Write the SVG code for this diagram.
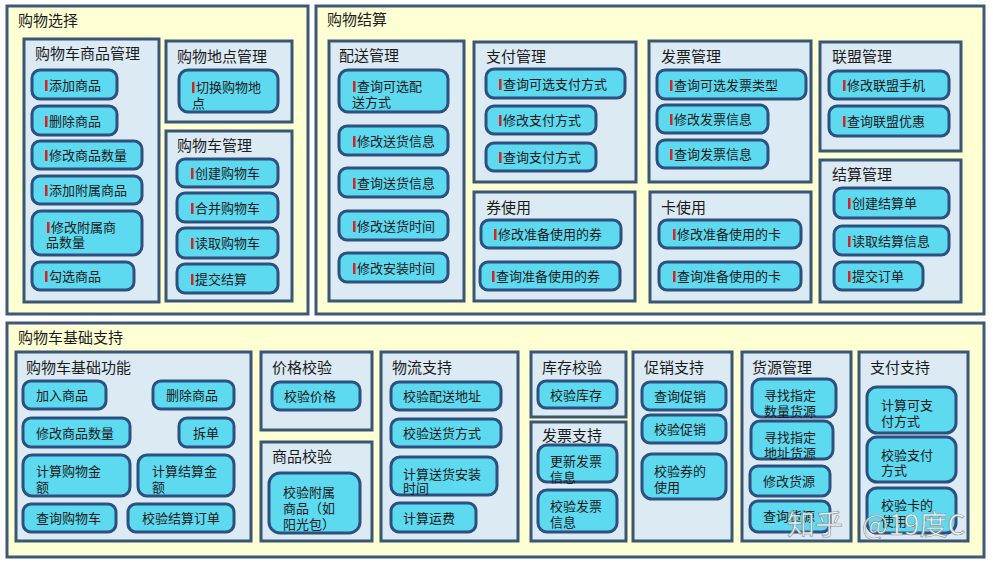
<svg xmlns="http://www.w3.org/2000/svg" width="993" height="565" viewBox="0 0 993 565">
<style>
.outer{fill:#FFFFD4;stroke:#3D5878;stroke-width:3}
.grp{fill:#DCEAF4;stroke:#3A5675;stroke-width:3}
.item{fill:#5DD9F0;stroke:#2C5080;stroke-width:3}
.bar{fill:#D42525}
text{font-family:"Noto Sans CJK SC","Noto Sans",sans-serif;fill:#1A1A1A}
.t1{font-size:15px}
.t2{font-size:15px}
.t3{font-size:13px}
.wm{font-size:28px;fill:#FFFFFF;stroke:#8A8A8A;stroke-width:0.7;opacity:0.9}
</style>
<rect width="993" height="565" fill="#FFFFFF"/>

<g id="outer-xuanze"><rect class="outer" x="7" y="6" width="301" height="308"/><text class="t1" x="18" y="26">购物选择</text></g>
<g id="outer-jiesuan"><rect class="outer" x="316" y="6" width="668" height="308"/><text class="t1" x="327" y="25">购物结算</text></g>
<g id="outer-jichu"><rect class="outer" x="7" y="323" width="977" height="234"/><text class="t1" x="18" y="343">购物车基础支持</text></g>

<g id="grp-spgl"><rect class="grp" x="24" y="39" width="135" height="263"/><text class="t2" x="35" y="59">购物车商品管理</text></g>
<g id="grp-ddgl"><rect class="grp" x="166" y="41" width="126" height="81"/><text class="t2" x="177" y="62">购物地点管理</text></g>
<g id="grp-gwcgl"><rect class="grp" x="166" y="131" width="126" height="170"/><text class="t2" x="177" y="151">购物车管理</text></g>
<g id="grp-psgl"><rect class="grp" x="329" y="41" width="135" height="260"/><text class="t2" x="339" y="61">配送管理</text></g>
<g id="grp-zfgl"><rect class="grp" x="474" y="42" width="162" height="140"/><text class="t2" x="486" y="62">支付管理</text></g>
<g id="grp-qsy"><rect class="grp" x="474" y="192" width="161" height="109"/><text class="t2" x="486" y="213">券使用</text></g>
<g id="grp-fpgl"><rect class="grp" x="649" y="41" width="162" height="141"/><text class="t2" x="661" y="62">发票管理</text></g>
<g id="grp-ksy"><rect class="grp" x="650" y="192" width="161" height="110"/><text class="t2" x="661" y="213">卡使用</text></g>
<g id="grp-lmgl"><rect class="grp" x="820" y="42" width="141" height="109"/><text class="t2" x="832" y="62">联盟管理</text></g>
<g id="grp-jsgl"><rect class="grp" x="820" y="160" width="141" height="142"/><text class="t2" x="832" y="180">结算管理</text></g>
<g id="grp-jcgn"><rect class="grp" x="16" y="352" width="235" height="189"/><text class="t2" x="26" y="373">购物车基础功能</text></g>
<g id="grp-jgjy"><rect class="grp" x="261" y="352" width="111" height="78"/><text class="t2" x="272" y="373">价格校验</text></g>
<g id="grp-spjy"><rect class="grp" x="261" y="442" width="111" height="99"/><text class="t2" x="272" y="462">商品校验</text></g>
<g id="grp-wlzc"><rect class="grp" x="381" y="352" width="137" height="189"/><text class="t2" x="392" y="373">物流支持</text></g>
<g id="grp-kcjy"><rect class="grp" x="531" y="352" width="95" height="65"/><text class="t2" x="542" y="373">库存校验</text></g>
<g id="grp-fpzc"><rect class="grp" x="531" y="422" width="95" height="119"/><text class="t2" x="542" y="441">发票支持</text></g>
<g id="grp-cxzc"><rect class="grp" x="633" y="352" width="99" height="189"/><text class="t2" x="644" y="373">促销支持</text></g>
<g id="grp-hygl"><rect class="grp" x="742" y="352" width="109" height="189"/><text class="t2" x="752" y="373">货源管理</text></g>
<g id="grp-zfzc"><rect class="grp" x="859" y="352" width="109" height="189"/><text class="t2" x="870" y="373">支付支持</text></g>

<!-- 购物车商品管理 -->
<g id="n-tjsp"><rect class="item" x="32" y="70" width="85" height="29" rx="8"/><rect class="bar" x="45" y="80" width="2.5" height="11"/><text class="t3" x="49" y="90">添加商品</text></g>
<g id="n-scsp"><rect class="item" x="32" y="106" width="85" height="29" rx="8"/><rect class="bar" x="45" y="116" width="2.5" height="11"/><text class="t3" x="49" y="126">删除商品</text></g>
<g id="n-xgspsl"><rect class="item" x="32" y="141" width="110" height="28" rx="8"/><rect class="bar" x="45" y="150" width="2.5" height="11"/><text class="t3" x="49" y="160">修改商品数量</text></g>
<g id="n-tjfssp"><rect class="item" x="32" y="176" width="110" height="28" rx="8"/><rect class="bar" x="45" y="185" width="2.5" height="11"/><text class="t3" x="49" y="195">添加附属商品</text></g>
<g id="n-xgfssl"><rect class="item" x="32" y="211" width="110" height="44" rx="9"/><rect class="bar" x="47" y="222" width="2.5" height="11"/><text class="t3"><tspan x="51" y="232">修改附属商</tspan><tspan x="46" y="247">品数量</tspan></text></g>
<g id="n-gxsp"><rect class="item" x="32" y="262" width="102" height="28" rx="8"/><rect class="bar" x="45" y="271" width="2.5" height="11"/><text class="t3" x="49" y="281">勾选商品</text></g>
<!-- 购物地点管理 -->
<g id="n-qhdd"><rect class="item" x="179" y="70" width="99" height="42" rx="9"/><rect class="bar" x="192" y="82" width="2.5" height="11"/><text class="t3"><tspan x="196" y="92">切换购物地</tspan><tspan x="192" y="108">点</tspan></text></g>
<!-- 购物车管理 -->
<g id="n-cjgwc"><rect class="item" x="177" y="159" width="101" height="28" rx="8"/><rect class="bar" x="191" y="168" width="2.5" height="11"/><text class="t3" x="195" y="178">创建购物车</text></g>
<g id="n-hbgwc"><rect class="item" x="177" y="193" width="101" height="29" rx="8"/><rect class="bar" x="191" y="203" width="2.5" height="11"/><text class="t3" x="195" y="213">合并购物车</text></g>
<g id="n-dqgwc"><rect class="item" x="177" y="228" width="101" height="30" rx="8"/><rect class="bar" x="191" y="238" width="2.5" height="11"/><text class="t3" x="195" y="248">读取购物车</text></g>
<g id="n-tjjs"><rect class="item" x="177" y="264" width="101" height="29" rx="8"/><rect class="bar" x="191" y="274" width="2.5" height="11"/><text class="t3" x="195" y="284">提交结算</text></g>
<!-- 配送管理 -->
<g id="n-cxpsfs"><rect class="item" x="339" y="70" width="109" height="42" rx="9"/><rect class="bar" x="353" y="81" width="2.5" height="11"/><text class="t3"><tspan x="357" y="91">查询可选配</tspan><tspan x="352" y="107">送方式</tspan></text></g>
<g id="n-xgshxx"><rect class="item" x="339" y="126" width="109" height="29" rx="8"/><rect class="bar" x="353" y="136" width="2.5" height="11"/><text class="t3" x="357" y="146">修改送货信息</text></g>
<g id="n-cxshxx"><rect class="item" x="339" y="168" width="109" height="29" rx="8"/><rect class="bar" x="353" y="178" width="2.5" height="11"/><text class="t3" x="357" y="188">查询送货信息</text></g>
<g id="n-xgshsj"><rect class="item" x="339" y="211" width="109" height="29" rx="8"/><rect class="bar" x="353" y="221" width="2.5" height="11"/><text class="t3" x="357" y="231">修改送货时间</text></g>
<g id="n-xgazsj"><rect class="item" x="339" y="253" width="109" height="29" rx="8"/><rect class="bar" x="353" y="263" width="2.5" height="11"/><text class="t3" x="357" y="273">修改安装时间</text></g>
<!-- 支付管理 -->
<g id="n-cxkxzf"><rect class="item" x="486" y="69" width="139" height="29" rx="8"/><rect class="bar" x="499" y="79" width="2.5" height="11"/><text class="t3" x="503" y="89">查询可选支付方式</text></g>
<g id="n-xgzf"><rect class="item" x="486" y="106" width="110" height="28" rx="8"/><rect class="bar" x="499" y="115" width="2.5" height="11"/><text class="t3" x="503" y="125">修改支付方式</text></g>
<g id="n-cxzf"><rect class="item" x="486" y="143" width="110" height="28" rx="8"/><rect class="bar" x="499" y="152" width="2.5" height="11"/><text class="t3" x="503" y="162">查询支付方式</text></g>
<!-- 券使用 -->
<g id="n-xgq"><rect class="item" x="481" y="220" width="140" height="28" rx="8"/><rect class="bar" x="494" y="229" width="2.5" height="11"/><text class="t3" x="498" y="239">修改准备使用的券</text></g>
<g id="n-cxq"><rect class="item" x="480" y="262" width="140" height="28" rx="8"/><rect class="bar" x="492" y="271" width="2.5" height="11"/><text class="t3" x="496" y="281">查询准备使用的券</text></g>
<!-- 发票管理 -->
<g id="n-cxfplx"><rect class="item" x="657" y="70" width="149" height="29" rx="8"/><rect class="bar" x="670" y="80" width="2.5" height="11"/><text class="t3" x="674" y="90">查询可选发票类型</text></g>
<g id="n-xgfp"><rect class="item" x="657" y="105" width="111" height="28" rx="8"/><rect class="bar" x="670" y="114" width="2.5" height="11"/><text class="t3" x="674" y="124">修改发票信息</text></g>
<g id="n-cxfp"><rect class="item" x="657" y="140" width="111" height="28" rx="8"/><rect class="bar" x="670" y="149" width="2.5" height="11"/><text class="t3" x="674" y="159">查询发票信息</text></g>
<!-- 卡使用 -->
<g id="n-xgk"><rect class="item" x="659" y="220" width="142" height="28" rx="8"/><rect class="bar" x="673" y="229" width="2.5" height="11"/><text class="t3" x="677" y="239">修改准备使用的卡</text></g>
<g id="n-cxk"><rect class="item" x="659" y="262" width="142" height="28" rx="8"/><rect class="bar" x="673" y="271" width="2.5" height="11"/><text class="t3" x="677" y="281">查询准备使用的卡</text></g>
<!-- 联盟管理 -->
<g id="n-xglmsj"><rect class="item" x="829" y="71" width="120" height="28" rx="8"/><rect class="bar" x="843" y="80" width="2.5" height="11"/><text class="t3" x="847" y="90">修改联盟手机</text></g>
<g id="n-cxlmyh"><rect class="item" x="829" y="106" width="120" height="30" rx="8"/><rect class="bar" x="843" y="116" width="2.5" height="11"/><text class="t3" x="847" y="126">查询联盟优惠</text></g>
<!-- 结算管理 -->
<g id="n-cjjsd"><rect class="item" x="834" y="188" width="115" height="30" rx="8"/><rect class="bar" x="848" y="198" width="2.5" height="11"/><text class="t3" x="852" y="208">创建结算单</text></g>
<g id="n-dqjsxx"><rect class="item" x="834" y="226" width="115" height="29" rx="8"/><rect class="bar" x="848" y="236" width="2.5" height="11"/><text class="t3" x="852" y="246">读取结算信息</text></g>
<g id="n-tjdd"><rect class="item" x="834" y="262" width="89" height="28" rx="8"/><rect class="bar" x="848" y="271" width="2.5" height="11"/><text class="t3" x="852" y="281">提交订单</text></g>

<!-- 购物车基础功能 -->
<g id="b-jrsp"><rect class="item" x="23" y="381" width="83" height="28" rx="8"/><text class="t3" x="36" y="400">加入商品</text></g>
<g id="b-scsp"><rect class="item" x="153" y="381" width="81" height="28" rx="8"/><text class="t3" x="166" y="400">删除商品</text></g>
<g id="b-xgspsl"><rect class="item" x="23" y="418" width="107" height="29" rx="8"/><text class="t3" x="36" y="438">修改商品数量</text></g>
<g id="b-cd"><rect class="item" x="179" y="418" width="55" height="29" rx="8"/><text class="t3" x="193" y="438">拆单</text></g>
<g id="b-jsgwje"><rect class="item" x="23" y="455" width="107" height="41" rx="9"/><text class="t3"><tspan x="36" y="476">计算购物金</tspan><tspan x="36" y="492">额</tspan></text></g>
<g id="b-jsjsje"><rect class="item" x="138" y="455" width="96" height="41" rx="9"/><text class="t3"><tspan x="152" y="476">计算结算金</tspan><tspan x="152" y="492">额</tspan></text></g>
<g id="b-cxgwc"><rect class="item" x="23" y="504" width="93" height="28" rx="8"/><text class="t3" x="36" y="523">查询购物车</text></g>
<g id="b-jyjsdd"><rect class="item" x="128" y="504" width="106" height="28" rx="8"/><text class="t3" x="142" y="523">校验结算订单</text></g>
<!-- 价格/商品校验 -->
<g id="b-jyjg"><rect class="item" x="272" y="382" width="88" height="28" rx="8"/><text class="t3" x="284" y="401">校验价格</text></g>
<g id="b-jyfssp"><rect class="item" x="269" y="473" width="91" height="60" rx="11"/><text class="t3"><tspan x="283" y="497">校验附属</tspan><tspan x="283" y="513">商品（如</tspan><tspan x="283" y="529">阳光包）</tspan></text></g>
<!-- 物流支持 -->
<g id="b-jypsdz"><rect class="item" x="391" y="382" width="110" height="28" rx="8"/><text class="t3" x="403" y="401">校验配送地址</text></g>
<g id="b-jyshfs"><rect class="item" x="391" y="419" width="110" height="28" rx="8"/><text class="t3" x="403" y="438">校验送货方式</text></g>
<g id="b-jsshaz"><rect class="item" x="391" y="457" width="106" height="38" rx="9"/><text class="t3"><tspan x="403" y="479">计算送货安装</tspan><tspan x="403" y="493">时间</tspan></text></g>
<g id="b-jsyf"><rect class="item" x="391" y="503" width="85" height="29" rx="8"/><text class="t3" x="403" y="523">计算运费</text></g>
<!-- 库存校验 / 发票支持 -->
<g id="b-jykc"><rect class="item" x="538" y="381" width="79" height="27" rx="8"/><text class="t3" x="550" y="400">校验库存</text></g>
<g id="b-gxfp"><rect class="item" x="538" y="445" width="79" height="37" rx="9"/><text class="t3"><tspan x="550" y="466">更新发票</tspan><tspan x="550" y="482">信息</tspan></text></g>
<g id="b-jyfp"><rect class="item" x="538" y="490" width="79" height="42" rx="9"/><text class="t3"><tspan x="550" y="511">校验发票</tspan><tspan x="550" y="527">信息</tspan></text></g>
<!-- 促销支持 -->
<g id="b-cxcx"><rect class="item" x="642" y="382" width="84" height="28" rx="8"/><text class="t3" x="654" y="401">查询促销</text></g>
<g id="b-jycx"><rect class="item" x="642" y="415" width="84" height="28" rx="8"/><text class="t3" x="654" y="434">校验促销</text></g>
<g id="b-jyqsy"><rect class="item" x="642" y="454" width="84" height="45" rx="10"/><text class="t3"><tspan x="654" y="476">校验券的</tspan><tspan x="654" y="492">使用</tspan></text></g>
<!-- 货源管理 -->
<g id="b-xzslhy"><rect class="item" x="752" y="379" width="84" height="38" rx="9"/><text class="t3"><tspan x="764" y="400">寻找指定</tspan><tspan x="764" y="416">数量货源</tspan></text></g>
<g id="b-xzdzhy"><rect class="item" x="751" y="421" width="82" height="38" rx="9"/><text class="t3"><tspan x="764" y="442">寻找指定</tspan><tspan x="764" y="458">地址货源</tspan></text></g>
<g id="b-xghy"><rect class="item" x="750" y="466" width="80" height="30" rx="8"/><text class="t3" x="763" y="486">修改货源</text></g>
<g id="b-cxhy"><rect class="item" x="750" y="501" width="80" height="31" rx="8"/><text class="t3" x="763" y="521">查询货源</text></g>
<!-- 支付支持 -->
<g id="b-jskzf"><rect class="item" x="867" y="387" width="89" height="46" rx="10"/><text class="t3"><tspan x="881" y="410">计算可支</tspan><tspan x="881" y="426">付方式</tspan></text></g>
<g id="b-jyzf"><rect class="item" x="867" y="437" width="89" height="45" rx="10"/><text class="t3"><tspan x="881" y="460">校验支付</tspan><tspan x="881" y="475">方式</tspan></text></g>
<g id="b-jyksy"><rect class="item" x="867" y="488" width="89" height="45" rx="10"/><text class="t3"><tspan x="881" y="510">校验卡的</tspan><tspan x="881" y="526">使用</tspan></text></g>

<g id="connectors"></g>

<g id="watermark"><text class="wm" x="787" y="535">知乎</text><text class="wm" x="862" y="535">@19度C</text></g>
</svg>
